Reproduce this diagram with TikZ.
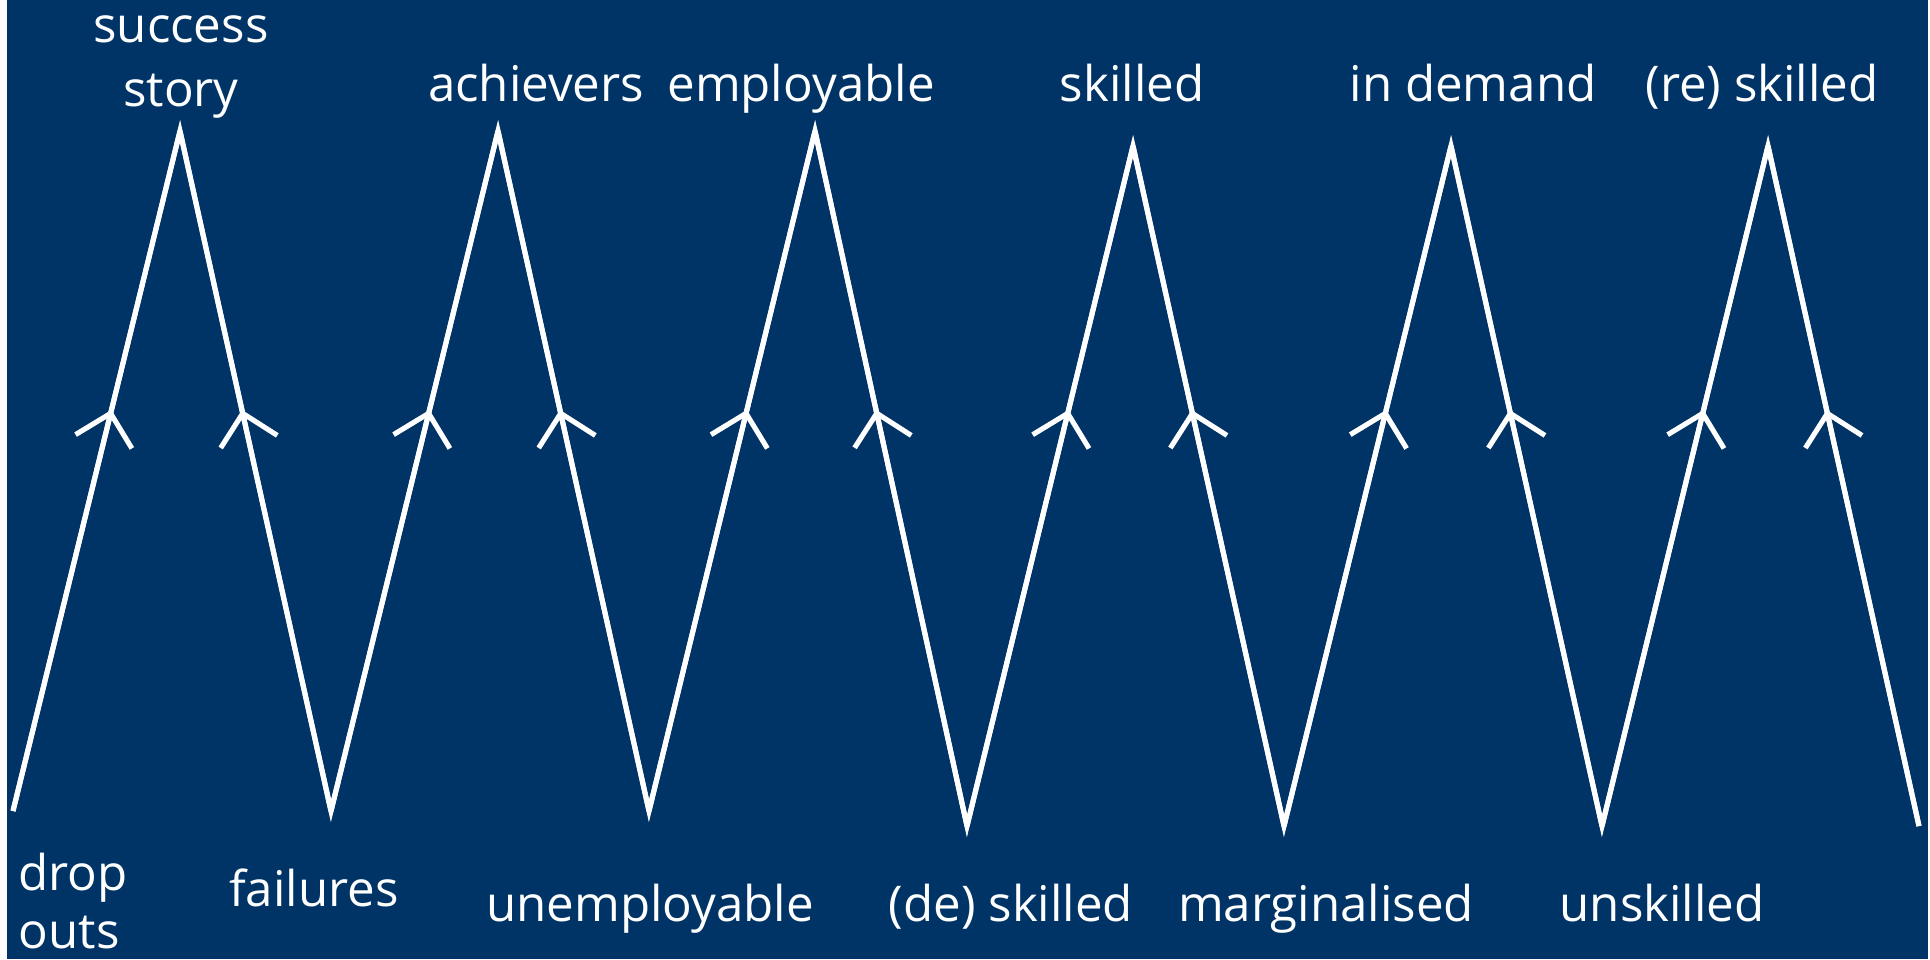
\documentclass[tikz,border=0pt]{standalone}
\usepackage{fontspec}
\setmainfont{Open Sans}
\usetikzlibrary{arrows.meta,decorations.markings}

\definecolor{slideblue}{RGB}{0,52,102}

\tikzset{
	zig/.style={draw=white, line width=1.45pt, line join=miter},
	upmark/.style={zig, postaction={decorate}, decoration={markings,
		mark=at position #1 with {\arrow{Straight Barb[angle=90:0.41cm]}}}},
	lbl/.style={text=white, inner sep=0pt, font=\fontsize{14}{18.2}\selectfont},
}

\begin{document}
\begin{tikzpicture}[x=0.01cm, y=-0.01cm]
	% Background
	\useasboundingbox (0,0) rectangle (1930,959);
	\fill[white] (0,0) rectangle (1930,959);
	\fill[slideblue] (7,0) rectangle (1928,959);

	% Turning points
	%Bottom
	\coordinate (v0) at (13,811);
	\coordinate (v1) at (331,811);
	\coordinate (v2) at (649,811);
	\coordinate (v3) at (967,826);
	\coordinate (v4) at (1284,826);
	\coordinate (v5) at (1602,826);
	\coordinate (v6) at (1919,826);
	%Top
	\coordinate (p1) at (180,131);
	\coordinate (p2) at (498,131);
	\coordinate (p3) at (815,131);
	\coordinate (p4) at (1133,146);
	\coordinate (p5) at (1451,146);
	\coordinate (p6) at (1768,146);

	% Zigzag
	\draw[zig] (v0) -- (p1) -- (v1) -- (p2) -- (v2) -- (p3) -- (v3)
		-- (p4) -- (v4) -- (p5) -- (v5) -- (p6) -- (v6);

	% Arrows, all pointing up to the peaks
	\draw[upmark=0.590] (v0) -- (p1);
	\draw[upmark=0.590] (v1) -- (p1);
	\draw[upmark=0.590] (v1) -- (p2);
	\draw[upmark=0.590] (v2) -- (p2);
	\draw[upmark=0.590] (v2) -- (p3);
	\draw[upmark=0.599] (v3) -- (p3);
	\draw[upmark=0.612] (v3) -- (p4);
	\draw[upmark=0.612] (v4) -- (p4);
	\draw[upmark=0.612] (v4) -- (p5);
	\draw[upmark=0.612] (v5) -- (p5);
	\draw[upmark=0.612] (v5) -- (p6);
	\draw[upmark=0.612] (v6) -- (p6);

	% Labels
	%Top (base = last line)
	\node[lbl, anchor=base, align=center] (success) at (181,106) {success\\story};
	\node[lbl, anchor=base] (achievers) at (536,101) {achievers};
	\node[lbl, anchor=base] (employable) at (801,101) {employable};
	\node[lbl, anchor=base] (skilled) at (1132,101) {skilled};
	\node[lbl, anchor=base] (indemand) at (1473,101) {in demand};
	\node[lbl, anchor=base] (reskilled) at (1762,101) {(re) skilled};
	%Bottom
	\node[lbl, anchor=base west, align=left, font=\fontsize{14}{16.5}\selectfont] (dropouts) at (18,948) {drop\\outs};
	\node[lbl, anchor=base] (failures) at (314,906) {failures};
	\node[lbl, anchor=base] (unemployable) at (650,921) {unemployable};
	\node[lbl, anchor=base] (deskilled) at (1011,921) {(de) skilled};
	\node[lbl, anchor=base] (marginalised) at (1326,921) {marginalised};
	\node[lbl, anchor=base] (unskilled) at (1662,921) {unskilled};

\end{tikzpicture}
\end{document}
